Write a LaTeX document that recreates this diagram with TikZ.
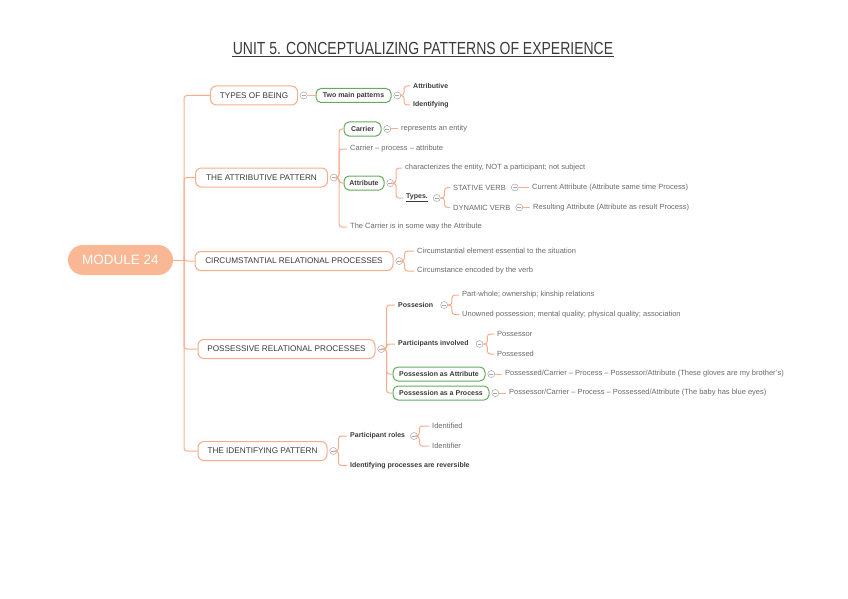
\documentclass[tikz,border=0pt]{standalone}
\usepackage{fontspec}
\setmainfont{Liberation Sans}
\newfontfamily\titlefont[FakeStretch=0.80]{Liberation Sans}
\usetikzlibrary{positioning}

\definecolor{peach}{RGB}{249,172,140}
\definecolor{rootfill}{RGB}{250,183,148}
\definecolor{leafgreen}{RGB}{98,172,92}
\definecolor{foldgray}{RGB}{165,165,165}
\definecolor{inkdark}{RGB}{58,58,58}
\definecolor{inkleaf}{RGB}{105,105,105}

\begin{document}
\begin{tikzpicture}[x=1pt, y=-1pt,
    root/.style={fill=rootfill, rounded corners=15pt, minimum width=105pt, minimum height=30pt,
      text=white, font=\fontsize{13.5}{15}\selectfont},
    topic/.style={draw=peach, fill=white, line width=1pt, rounded corners=6pt, minimum height=19pt,
      text=inkdark, font=\fontsize{8.2}{9}\selectfont},
    hilite/.style={draw=leafgreen, fill=white, line width=1pt, rounded corners=5pt, minimum height=14pt,
      inner xsep=3pt, text=inkdark, font=\fontsize{7}{8}\selectfont\bfseries},
    leaf/.style={anchor=west, inner xsep=3pt, inner ysep=1pt, text=inkleaf, font=\fontsize{7.5}{8}\selectfont},
    bleaf/.style={leaf, text=inkdark, font=\fontsize{7}{8}\selectfont\bfseries},
    fold/.style={circle, draw=foldgray, line width=0.5pt, fill=white, minimum size=7pt, inner sep=0pt,
      path picture={\draw[foldgray, line width=0.5pt] ([xshift=1.6pt]path picture bounding box.west)
        -- ([xshift=-1.6pt]path picture bounding box.east);}},
    link/.style={draw=peach, line width=1pt, rounded corners=3pt}]
  \useasboundingbox (0,0) rectangle (848,599);

  % title
  \node[text=inkdark, font=\titlefont\fontsize{17.5}{19}\selectfont, inner sep=1pt] (title) at (423,48)
    {UNIT 5. CONCEPTUALIZING PATTERNS OF EXPERIENCE};
  \draw[inkdark, line width=0.9pt] ([yshift=-1pt]title.south west) -- ([yshift=-1pt]title.south east);

  % root and main branches
  \node[root] (mod) at (120.5,260) {MODULE 24};
  \coordinate (trunk) at (184,260);
  \node[topic, minimum width=87pt] (types) at (254,95.5) {TYPES OF BEING};
  \node[topic, minimum width=132pt] (attr) at (261.5,177.5) {THE ATTRIBUTIVE PATTERN};
  \node[topic, minimum width=198pt] (circ) at (294,261) {CIRCUMSTANTIAL RELATIONAL PROCESSES};
  \node[topic, minimum width=177pt] (poss) at (286.5,349) {POSSESSIVE RELATIONAL PROCESSES};
  \node[topic, minimum width=129pt] (ident) at (262.5,451) {THE IDENTIFYING PATTERN};
  \draw[link] (mod.east) -- (trunk);
  \foreach \b in {types,attr,circ,poss,ident}
    \draw[link] (trunk) |- (\b.west);
  \foreach \b in {types,attr,circ,poss,ident}
    \node[fold, right=2pt of \b] (\b F) {};

  % types of being
  \node[hilite, minimum width=75pt] (twomain) at (353.5,95.5) {Two main patterns};
  \node[fold, right=2pt of twomain] (twomainF) {};
  \node[bleaf] (attrib) at (410,86) {Attributive};
  \node[bleaf] (identif) at (410,105) {Identifying};
  \draw[link] (typesF) -- (twomain);
  \foreach \c in {attrib,identif}
    \draw[link] (twomainF.east) -- ++(3,0) |- (\c.west);

  % attributive pattern
  \node[hilite, minimum width=37pt] (carrier) at (362.5,129) {Carrier};
  \node[leaf] (cpa) at (347,149) {Carrier -- process -- attribute};
  \node[hilite, minimum width=40pt] (attribute) at (364,183) {Attribute};
  \node[leaf] (someway) at (347,227) {The Carrier is in some way the Attribute};
  \foreach \c in {carrier,cpa,attribute,someway}
    \draw[link] (attrF.east) -- ++(1.5,0) |- (\c.west);
  \node[fold, right=2pt of carrier] (carrierF) {};
  \node[leaf] (entity) at (398,129) {represents an entity};
  \draw[link] (carrierF) -- (entity);
  \node[fold, right=2pt of attribute] (attributeF) {};
  \node[leaf] (charac) at (402,168) {characterizes the entity, NOT a participant; not subject};
  \node[bleaf] (typesub) at (403,198) {\underline{Types.}};
  \foreach \c in {charac,typesub}
    \draw[link] (attributeF.east) -- ++(2,0) |- (\c.west);
  \node[fold, right=2pt of typesub] (typesubF) {};
  \node[leaf] (stative) at (450,187.5) {STATIVE VERB};
  \node[leaf] (dynamic) at (450,207.5) {DYNAMIC VERB};
  \foreach \c in {stative,dynamic}
    \draw[link] (typesubF.east) -- ++(4,0) |- (\c.west);
  \node[fold, right=2pt of stative] (stativeF) {};
  \node[fold, right=2pt of dynamic] (dynamicF) {};
  \node[leaf] (current) at (529,187.5) {Current Attribute (Attribute same time Process)};
  \node[leaf] (resulting) at (530,207.5) {Resulting Attribute (Attribute as result Process)};
  \draw[link] (stativeF) -- (current);
  \draw[link] (dynamicF) -- (resulting);

  % circumstantial
  \node[leaf] (essential) at (414,251) {Circumstantial element essential to the situation};
  \node[leaf] (encoded) at (414,271) {Circumstance encoded by the verb};
  \foreach \c in {essential,encoded}
    \draw[link] (circF.east) -- ++(1.5,0) |- (\c.west);

  % possessive
  \node[bleaf] (possesion) at (395,305) {Possesion};
  \node[bleaf] (involved) at (395,344) {Participants involved};
  \node[hilite, minimum width=92pt] (asattr) at (439,374) {Possession as Attribute};
  \node[hilite, minimum width=96pt] (asproc) at (441,393) {Possession as a Process};
  \foreach \c in {possesion,involved,asattr,asproc}
    \draw[link] (possF.east) -- ++(1.5,0) |- (\c.west);
  \node[fold, right=4pt of possesion] (possesionF) {};
  \node[leaf] (partwhole) at (459,295) {Part-whole; ownership; kinship relations};
  \node[leaf] (unowned) at (459,314.5) {Unowned possession; mental quality; physical quality; association};
  \foreach \c in {partwhole,unowned}
    \draw[link] (possesionF.east) -- ++(4,0) |- (\c.west);
  \node[fold, right=4pt of involved] (involvedF) {};
  \node[leaf] (possessor) at (494,334) {Possessor};
  \node[leaf] (possessed) at (494,354) {Possessed};
  \foreach \c in {possessor,possessed}
    \draw[link] (involvedF.east) -- ++(4,0) |- (\c.west);
  \node[fold, right=2pt of asattr] (asattrF) {};
  \node[fold, right=2pt of asproc] (asprocF) {};
  \node[leaf] (gloves) at (502,374) {Possessed/Carrier -- Process -- Possessor/Attribute (These gloves are my brother's)};
  \node[leaf] (baby) at (506,393) {Possessor/Carrier -- Process -- Possessed/Attribute (The baby has blue eyes)};
  \draw[link] (asattrF) -- (gloves);
  \draw[link] (asprocF) -- (baby);

  % identifying
  \node[bleaf] (roles) at (347,436) {Participant roles};
  \node[bleaf] (reversible) at (347,465.5) {Identifying processes are reversible};
  \foreach \c in {roles,reversible}
    \draw[link] (identF.east) -- ++(1.5,0) |- (\c.west);
  \node[fold, right=2pt of roles] (rolesF) {};
  \node[leaf] (identified) at (429,426) {Identified};
  \node[leaf] (identifier) at (429,446) {Identifier};
  \foreach \c in {identified,identifier}
    \draw[link] (rolesF.east) -- ++(1.5,0) |- (\c.west);
\end{tikzpicture}
\end{document}
